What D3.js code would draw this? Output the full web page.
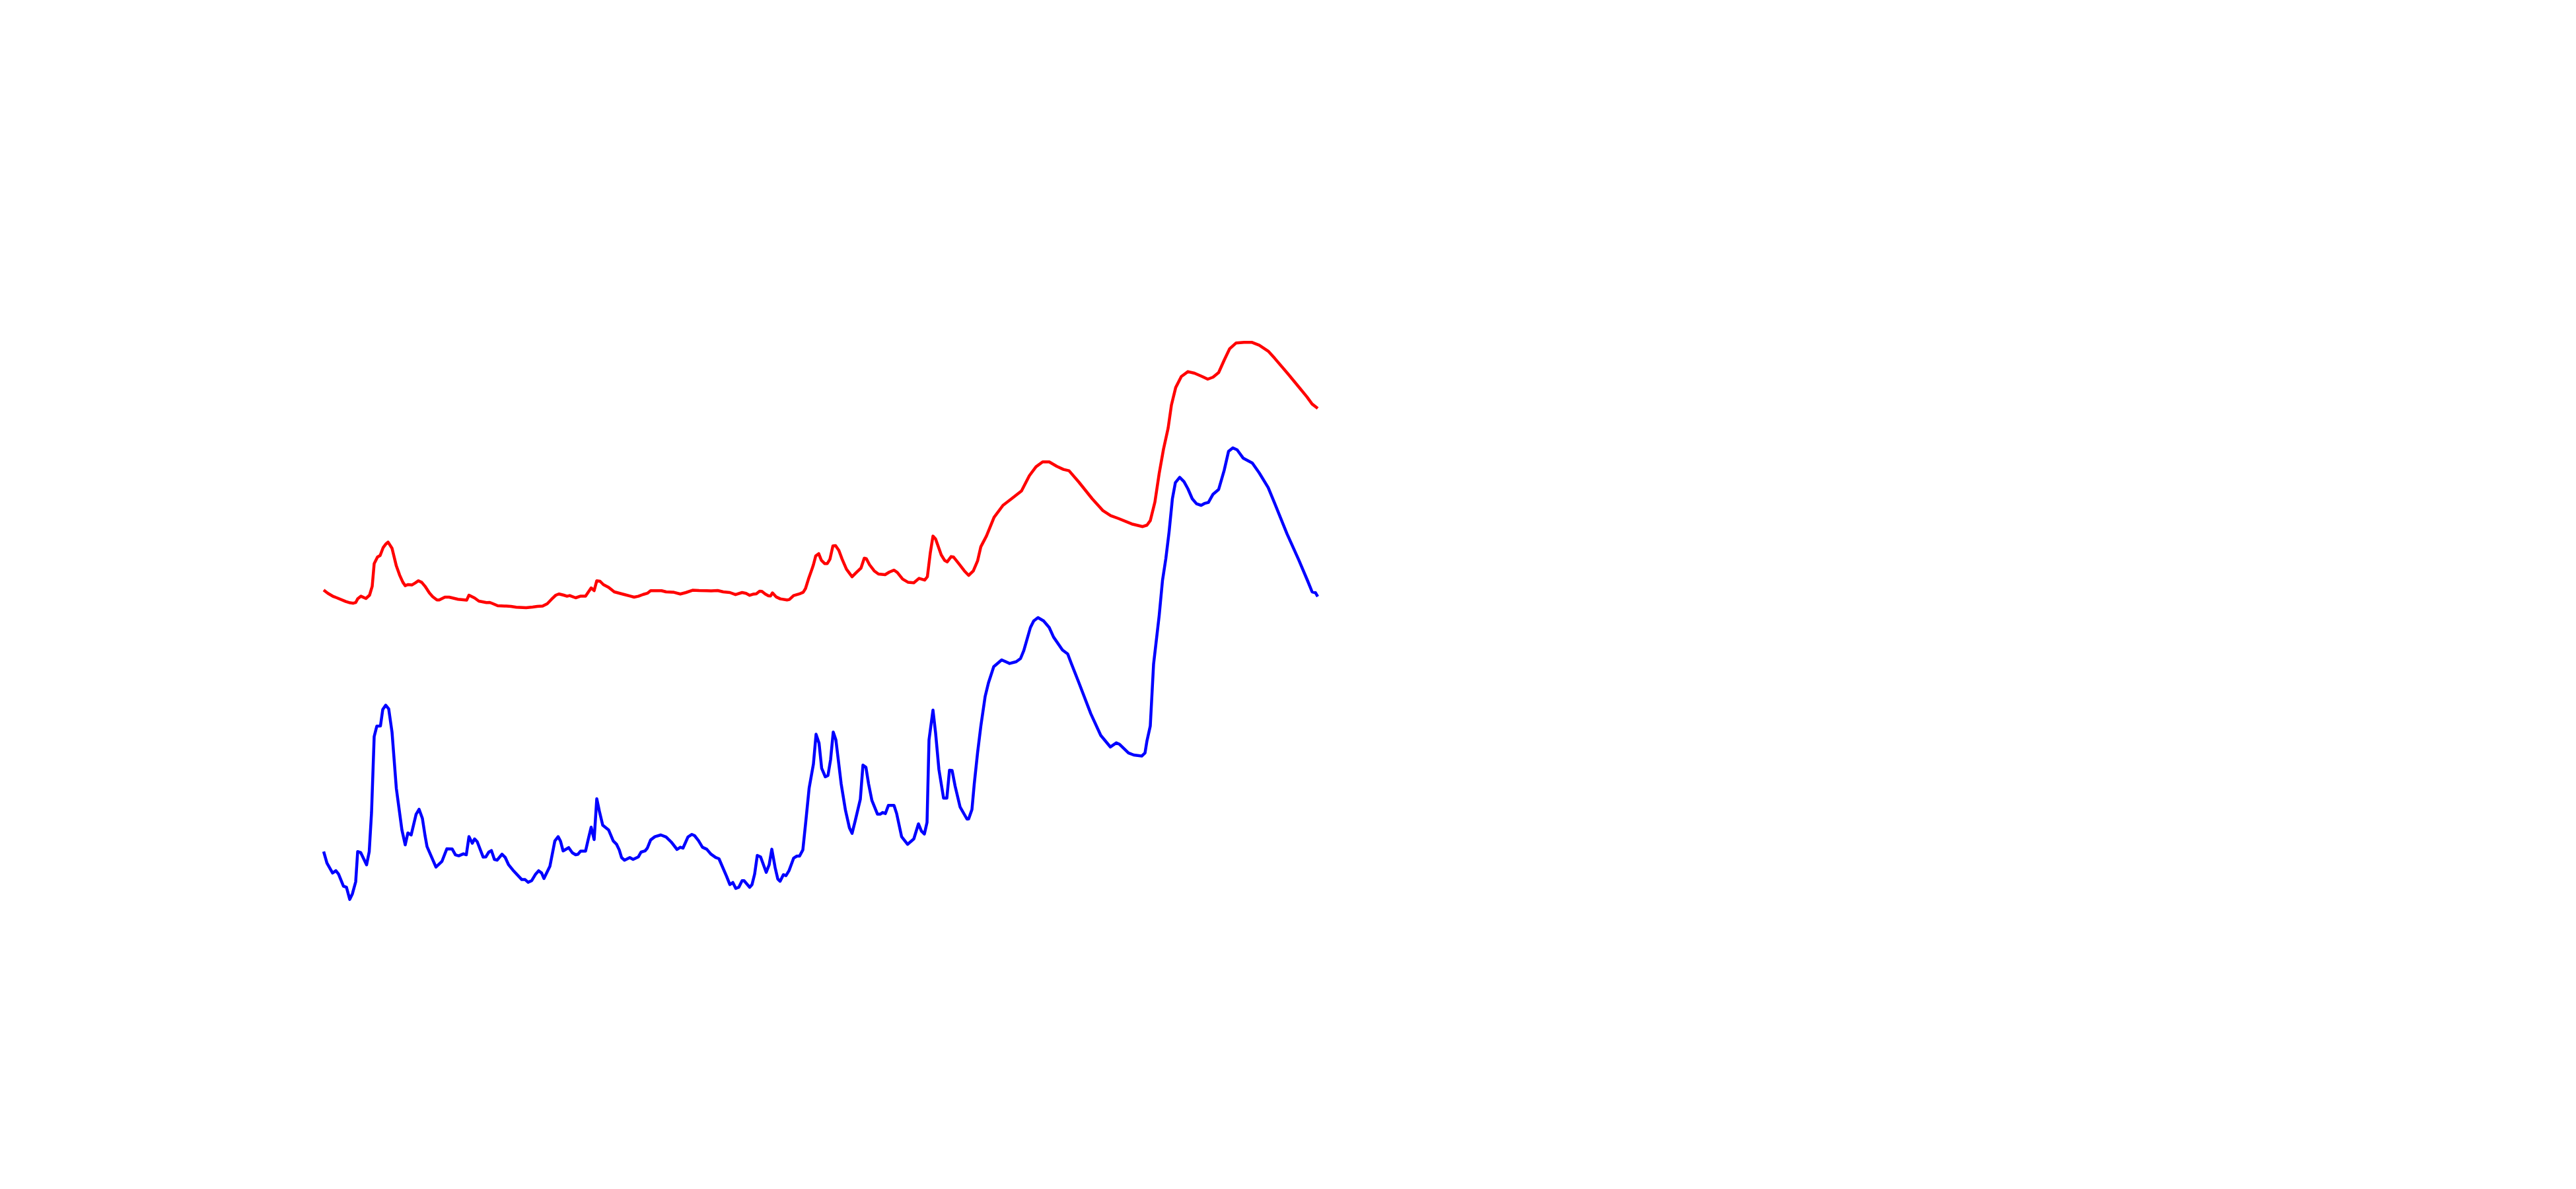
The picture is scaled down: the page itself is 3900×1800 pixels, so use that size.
<!DOCTYPE html>
<html>
<head>
<meta charset="utf-8">
<script src="https://cdn.jsdelivr.net/npm/d3@7"></script>
<style>
  html, body { margin: 0; padding: 0; background: #ffffff; }
  svg { display: block; }
</style>
</head>
<body>
<div id="chart"></div>
<script>
// ---- data (time index, value) ----
const redT = [0,1.3,3,4,6.7,8,9,9.7,10.3,11.3,12.8,13.9,14.7,15.3,16.3,17.1,18,18.9,19.5,20.7,22,23,24,24.7,25.5,26.7,27.7,28.7,29.7,30.7,32,33,34.3,35,36.7,38,40.7,43.3,44,45.7,47,49.3,50.3,51.3,52.7,55.3,56.7,58.3,61.3,63.3,64.7,66.3,67.7,69,70.3,71.3,72.7,73.7,74.5,76.3,77.7,79.3,81,81.9,82.7,83.7,84.7,86.3,88,91,93,94,95.3,96.7,98,99,100.7,102.3,103.7,106,108,109.7,111.7,113.7,116,117.3,119.3,121,123,124.7,126.7,127.9,129,130,131,132,132.7,133.7,134.7,135.3,135.9,137,138.3,140.3,141,142.3,144,145.2,145.9,146.8,147.9,148.3,149,149.9,150.7,151.7,152.5,153.3,154.2,155,156,157,158.3,160,161.3,162.7,163.7,164.3,165.3,166.7,168,170,171.3,172.7,173.7,175.3,177,178.7,180.3,182,182.8,183.7,184.5,185.3,187,188,188.8,190,190.7,192.3,194,195.3,196.7,198,199,200.7,203,205.7,208.3,211.3,213.7,215.7,217.7,219.7,222,224,225.7,228.7,232.7,236,238.3,240.7,244.7,248,249.3,250.3,251.7,253,254.3,255.7,256.7,258,259.7,261.7,263.7,266,267.7,269.3,271,272.7,274.3,276.3,278.7,281,283.3,286,288,292,295.3,297.7,299.3,301];
const redV = [253.4,250.9,248.4,247.5,244.7,243.7,243.4,243.9,246.7,248.7,247,249.5,256.2,273.4,278.4,279.5,285.4,288.4,289.7,285,271.7,264.7,259.2,256.7,257.5,257.2,258.7,260.4,259.2,256.2,251.2,248.4,245.9,245.9,248,248,246.4,245.7,249.5,247.4,245,243.9,244,243,241.5,241.2,241,240.4,240,240.5,241,241.2,243,246.4,249.5,250.4,249.5,248.7,249.2,247.5,248.7,248.7,255,252.9,260.4,260,257.5,255.4,252,250,248.7,248,248.7,250,250.9,252.9,252.9,252.9,252,251.7,250.4,251.5,253.2,253,252.9,252.7,253,252,251.5,249.9,251.5,250.9,249.4,250.2,250.5,252.5,252.4,250.4,249,248.9,251.2,248.2,246.7,245.9,246.2,249.2,250.4,251.7,254.5,261.7,269.5,272.5,279.2,280.9,275.9,273.4,273.4,276.7,286.7,287,283.4,276.7,269.2,263.4,266.7,270,277.5,277.2,272.5,267.9,265.5,265,267,268.4,266.7,261.7,259.2,258.9,262.2,260.9,263.4,281.7,294.2,292,280,275.9,274.7,278.7,278.4,273.4,267.9,264.5,267.8,275.4,286.2,294.3,308.4,317.5,322.5,328.4,340,346.7,350.4,350.4,347,344.7,343.7,335,322.5,313.4,309.7,307.5,303.4,301.4,302.5,305.9,320,341.7,360,375.9,393.4,406.7,415,418.7,417.5,415,413,414.5,418,427.5,435.9,440.4,440.9,440.9,438.7,434.2,428.7,417,407,399.7,394.2,390.9];

const blueT = [0,1,2.7,3.7,4.5,6,6.9,7.9,8.7,9.7,10.3,11.2,13,13.8,14.5,15.3,16.1,17.2,17.9,18.8,19.7,20.7,22,23.7,24.7,25.5,26.5,28,28.9,29.9,30.7,31.3,34,35.8,37.3,38.9,39.9,40.9,42.3,43.2,44,45,45.7,46.5,48.3,49.1,50,50.8,51.7,52.5,54,55,56,57.3,60,61,61.9,63,64.2,65.1,66,66.7,68.5,70,71,71.7,72.5,74.2,75.3,76.3,77,77.8,79.3,80.1,81,81.9,82.7,83.5,84.5,86.3,87.7,88.7,89.5,90.2,91.1,92.7,93.7,95.3,96.1,97.3,98,99,100.3,102.1,103.7,105.3,107,108,108.8,110.3,111.5,112.3,113.5,114.7,116,117.3,118.7,119.7,122,123,123.9,124.8,125.7,126.7,127.3,129,129.7,130.5,131.3,132.3,134,134.9,135.7,136.7,137.5,138.2,139.2,140,140.9,142.3,143.3,144.1,145.1,146,147,148.3,149.1,150,150.8,151.9,152.7,153.5,154.3,155.1,156.7,158,159.2,160,161,162.5,163.3,164.2,165,166,167.7,168.5,169.3,170.1,171,172.7,173.5,175,176.8,178.7,180.1,181,181.9,182.7,183.3,184.5,185.3,186.3,187.7,188.7,189.5,190.3,191.2,192.7,194.8,195.3,196.3,197,198,199,200.3,201.3,202.9,205.3,207.7,209.7,211,212,214,215,216.3,218,219.7,221,223.7,225.3,226.3,228.7,232.3,235.3,238.2,240,241,243.7,245.3,247.7,248.7,249.3,250.3,251.3,253,254,255,256,257,257.9,259.2,260.5,261.7,263,264.3,265.7,266.7,267.9,269.3,271,272.7,274,275.3,276.6,278.4,281.2,283.3,286,288,291.7,295.3,298,299.3,300.3,301];
const blueV = [55.4,46.7,39.2,40.9,38.4,29.2,28.4,19.2,23.4,32.5,55.4,54.7,45.4,55.4,85,142.5,150.4,150.5,163,166.2,163.4,145.9,103.4,71.7,60.5,69.5,68,83.7,87.4,80.5,67.5,59.2,43.7,47.9,57.5,57.4,52.9,52.2,53.7,53,66.7,61.7,65,62.9,51.2,51.4,55,56.2,49.5,48.9,53.4,50.9,45.4,41.4,34.2,34.2,32.2,33.4,38.4,40.9,39.2,35,44.2,63.4,66.7,63.4,55.9,58.4,54.5,53,53.4,55.7,55.7,64.5,73.9,64.5,95.4,85.9,75.4,71.7,63.4,60.9,56.7,50.9,48.9,50.9,49.5,51.4,55,55.9,58,64.2,66.7,68,66.4,62.5,57,58.7,58,66.4,68.4,67.5,63.7,58.7,57.2,53.4,50.9,50,36.7,30.4,32,27.5,28.4,33.4,33.4,28.4,30.4,38.4,52.5,51.4,39.7,45.4,57.2,43.4,34.7,32.9,37.9,37.2,40.9,50.4,52,52,56.7,78.4,103.4,121.7,144.2,137.5,118.4,112,113,125,145.9,140,106.7,86.7,73.4,69.2,79.2,95,120.9,119.2,106.7,94.2,83.7,83.7,85,84.2,90.4,90.4,84.2,66.7,60.9,65,76.4,70.9,68.7,77.5,140,162.5,145,117.5,95.9,95.9,117,116.7,105,89.2,80,80.1,87.3,106.6,130.1,150.5,172.9,183.1,195.4,200.5,197.8,199.1,201.5,207.6,225,230,232.5,230,225,217.8,208,205,198.4,183.1,159.7,143.4,134.6,137.7,136.6,130.1,128.5,127.7,130.1,139.3,150.5,197.4,234.1,260.7,277,297.5,322.6,334.7,338.7,335.4,330,322.5,318.7,317.5,318.9,319.7,325.9,329.5,344.2,358.4,361,359.5,353.3,349.5,342,330.9,318.8,295.9,275.9,260,252,251.4,248.4];

const seriesNames = ["red series", "blue series"];
const seriesColors = ["#ff0000", "#0000ff"];

// ---- layout ----
const W = 3900, H = 1800;
const plot = { left: 490, right: 1995, top: 400, bottom: 1400 };

const svg = d3.select("#chart").append("svg")
  .attr("width", W).attr("height", H)
  .attr("viewBox", `0 0 ${W} ${H}`);

svg.append("rect").attr("width", W).attr("height", H).attr("fill", "#ffffff");

const x = d3.scaleLinear().domain([0, 301]).range([plot.left, plot.right]);
const y = d3.scaleLinear().domain([0, 500]).range([plot.bottom, plot.top]);

const line = d3.line()
  .x(d => x(d[0]))
  .y(d => y(d[1]))
  .curve(d3.curveLinear);

const series = [
  d3.zip(redT, redV),
  d3.zip(blueT, blueV)
];

svg.append("g").selectAll("path")
  .data(series)
  .join("path")
  .attr("d", line)
  .attr("fill", "none")
  .attr("stroke", (d, i) => seriesColors[i])
  .attr("stroke-width", 4.5)
  .attr("stroke-linejoin", "round")
  .attr("stroke-linecap", "butt")
  .append("title").text((d, i) => seriesNames[i]);
</script>
</body>
</html>
